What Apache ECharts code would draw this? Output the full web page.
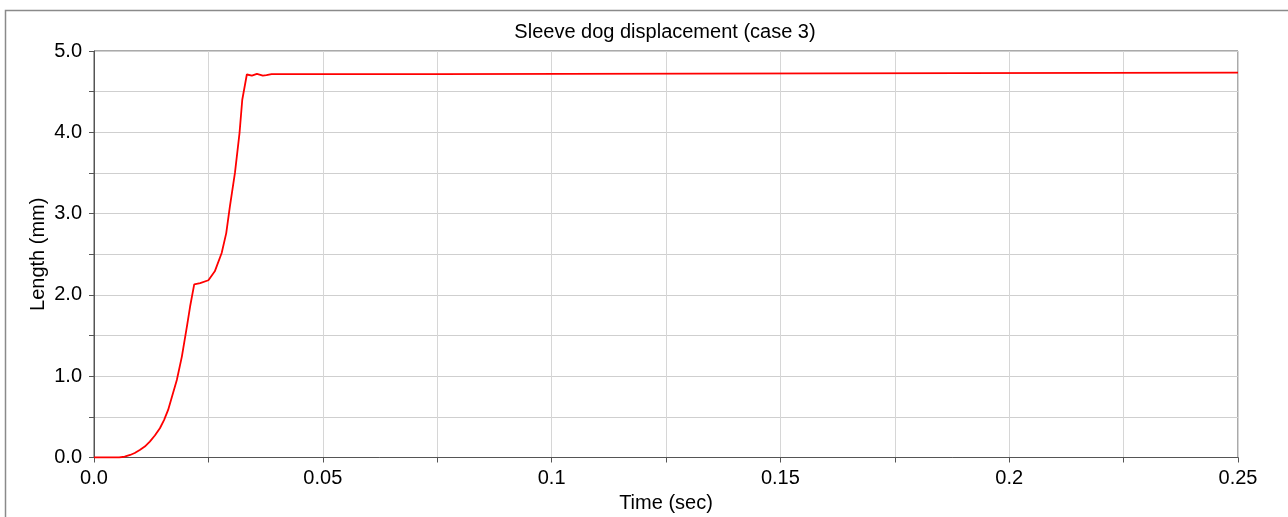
<!DOCTYPE html>
<html>
<head>
<meta charset="utf-8">
<script src="https://cdn.jsdelivr.net/npm/echarts@6/dist/echarts.min.js"></script>
<style>
html,body{margin:0;padding:0;background:#fff;}
#chart{width:1288px;height:517px;}
</style>
</head>
<body>
<div id="chart"></div>
<script>
var titleText = 'Sleeve dog displacement (case 3)';
var xName = 'Time (sec)';
var yName = 'Length (mm)';
var xTickLabels = ['0.0', '0.05', '0.1', '0.15', '0.2', '0.25'];
var yTickLabels = ['0.0', '1.0', '2.0', '3.0', '4.0', '5.0'];
var timeSec = [0, 0.0055, 0.0067, 0.0079, 0.0089, 0.0100, 0.0111, 0.0122, 0.0133, 0.0144, 0.0153, 0.0162, 0.0171, 0.0181, 0.0192, 0.0203, 0.0210, 0.0219, 0.0232, 0.0250, 0.0264, 0.0279, 0.0289, 0.0297, 0.0308, 0.0318, 0.0324, 0.0334, 0.0345, 0.0356, 0.0369, 0.0377, 0.0388, 0.0745, 0.0746, 0.1594, 0.1595, 0.25];
var lengthMm = [0, 0, 0.01, 0.031, 0.055, 0.092, 0.135, 0.195, 0.27, 0.36, 0.46, 0.585, 0.76, 0.954, 1.241, 1.61, 1.857, 2.13, 2.145, 2.18, 2.29, 2.515, 2.76, 3.09, 3.5, 3.99, 4.40, 4.711, 4.698, 4.719, 4.698, 4.702, 4.715, 4.715, 4.725, 4.725, 4.735, 4.735];

var seriesData = timeSec.map(function (t, i) { return [t, lengthMm[i]]; });
var FONT = 'Arial, "Liberation Sans", sans-serif';

var chart = echarts.init(document.getElementById('chart'), null, {renderer: 'canvas'});
chart.setOption({
  animation: false,
  backgroundColor: '#ffffff',
  graphic: [{
    type: 'rect', left: 3, top: 8, silent: true,
    shape: {width: 1320, height: 560},
    style: {fill: 'none', stroke: '#8a8a8a', lineWidth: 1.5}
  }],
  title: {
    text: titleText, left: 665, top: 22, textAlign: 'center', padding: 0,
    textStyle: {fontFamily: FONT, fontSize: 20, fontWeight: 'normal', color: '#000'}
  },
  grid: {
    left: 94, top: 51, width: 1144, height: 406.5,
    outerBoundsMode: 'none', containLabel: false,
    show: true, borderColor: '#555', borderWidth: 1, backgroundColor: 'transparent'
  },
  xAxis: {
    type: 'value', min: 0, max: 0.25, interval: 0.025,
    name: xName, nameLocation: 'middle', nameGap: 36, nameMoveOverlap: false,
    nameTextStyle: {fontFamily: FONT, fontSize: 20, color: '#000'},
    axisLine: {show: true, lineStyle: {color: '#555', width: 1}},
    axisTick: {show: true, length: 5, lineStyle: {color: '#555'}},
    axisLabel: {
      fontFamily: FONT, fontSize: 20, color: '#000', margin: 11, showMaxLabel: true, showMinLabel: true,
      formatter: function (v, i) { return i % 2 === 0 ? xTickLabels[i / 2] : ''; }
    },
    splitLine: {show: true, lineStyle: {color: '#d6d6d6', width: 1}}
  },
  yAxis: {
    type: 'value', min: 0, max: 5, interval: 0.5,
    name: yName, nameLocation: 'middle', nameGap: 46, nameMoveOverlap: false,
    nameTextStyle: {fontFamily: FONT, fontSize: 20, color: '#000'},
    axisLine: {show: true, lineStyle: {color: '#555', width: 1}},
    axisTick: {show: true, length: 5, lineStyle: {color: '#555'}},
    axisLabel: {
      fontFamily: FONT, fontSize: 20, color: '#000', margin: 12,
      formatter: function (v, i) { return i % 2 === 0 ? yTickLabels[i / 2] : ''; }
    },
    splitLine: {show: true, lineStyle: {color: '#cfcfcf', width: 1}}
  },
  series: [{
    type: 'line', data: seriesData, showSymbol: false, smooth: false,
    lineStyle: {color: '#ff0000', width: 1.8}, itemStyle: {color: '#ff0000'}
  }]
});
</script>
</body>
</html>
